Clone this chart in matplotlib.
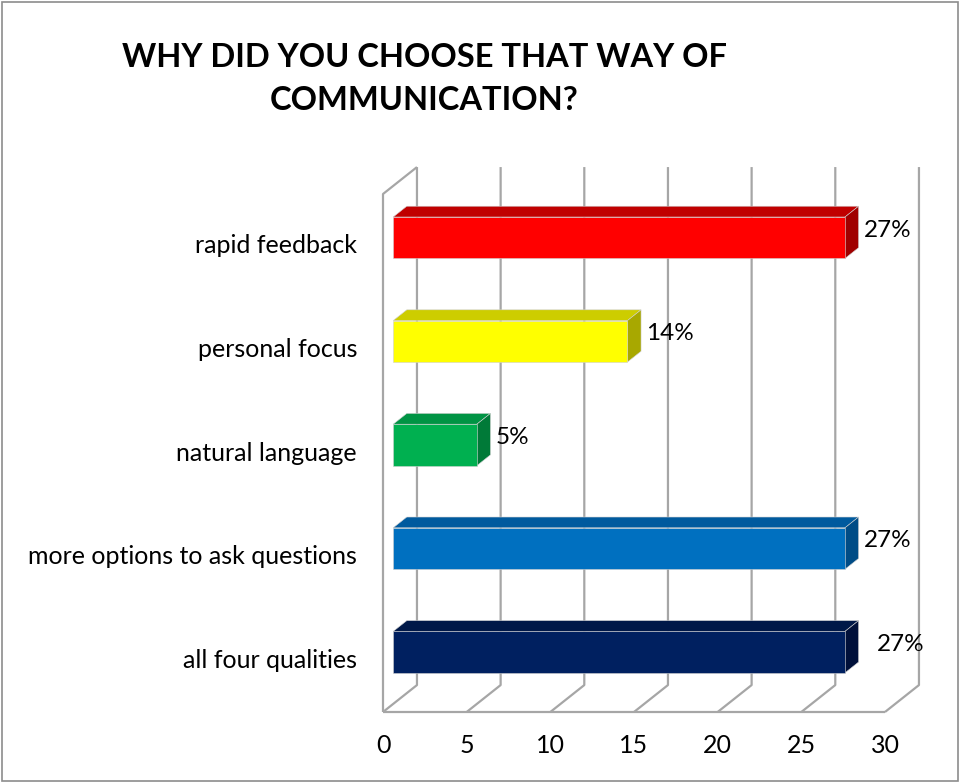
import matplotlib.pyplot as plt
from matplotlib.patches import Polygon, Rectangle

plt.rcParams['font.family'] = ['Lato', 'DejaVu Sans']

# categories listed bottom to top
categories = ['all four qualities', 'more options to ask questions',
              'natural language', 'personal focus', 'rapid feedback']
values = [27, 27, 5, 14, 27]
value_labels = ['27%', '27%', '5%', '14%', '27%']
ticks = [0, 5, 10, 15, 20, 25, 30]
title = 'WHY DID YOU CHOOSE THAT WAY OF\nCOMMUNICATION?'

front_colors = ['#002060', '#0070C0', '#00B050', '#FFFF00', '#FF0000']
top_colors = ['#001848', '#005A9E', '#009444', '#CDCD00', '#C00000']
side_colors = ['#00103A', '#004C86', '#007A38', '#A8A800', '#A00000']

# oblique projection of the depth axis (in data units per full depth)
DX, DY = 2.03, 0.26
Z_FRONT, Z_BACK = 0.3, 0.7
BAR_H = 0.40
XMAX = 30
NCAT = len(categories)
GRID = '#A6A6A6'


def proj(x, y, z):
    return x + z * DX, y + z * DY


def line3d(ax, pts, **kw):
    xy = [proj(*p) for p in pts]
    ax.plot([p[0] for p in xy], [p[1] for p in xy], color=GRID, lw=1.6,
            solid_capstyle='butt', zorder=1, **kw)


fig = plt.figure(figsize=(9.6, 7.83), dpi=100)
ax = fig.add_axes([0, 0, 1, 1])
ax.set_xlim(-383 / 16.733, (960 - 383) / 16.733)
ax.set_ylim(-71 / 103.6, (783 - 71) / 103.6)
ax.axis('off')

# walls and floor
line3d(ax, [(0, 0, 0), (0, NCAT, 0), (0, NCAT, 1)])
for t in ticks:
    line3d(ax, [(t, 0, 0), (t, 0, 1), (t, NCAT, 1)])
line3d(ax, [(0, 0, 0), (XMAX, 0, 0)])

# 3d bars
for i, v in enumerate(values):
    y0 = i + 0.5 - BAR_H / 2
    y1 = i + 0.5 + BAR_H / 2
    front = [proj(0, y0, Z_FRONT), proj(v, y0, Z_FRONT),
             proj(v, y1, Z_FRONT), proj(0, y1, Z_FRONT)]
    top = [proj(0, y1, Z_FRONT), proj(v, y1, Z_FRONT),
           proj(v, y1, Z_BACK), proj(0, y1, Z_BACK)]
    side = [proj(v, y0, Z_FRONT), proj(v, y0, Z_BACK),
            proj(v, y1, Z_BACK), proj(v, y1, Z_FRONT)]
    for poly, c in [(top, top_colors[i]), (side, side_colors[i]),
                    (front, front_colors[i])]:
        ax.add_patch(Polygon(poly, closed=True, facecolor=c,
                             edgecolor='#D0D0D0', lw=0.4, zorder=3))
    lx, ly = proj(v, i + 0.5, Z_BACK)
    pad = 1.1 if i == 0 else 0.3
    ax.text(lx + pad, ly - 0.03, value_labels[i], ha='left', va='center',
            fontsize=17.5, color='black', zorder=4)

# category labels on the front floor edge
for i, name in enumerate(categories):
    ax.text(-1.55, i + 0.5, name, ha='right', va='center', fontsize=18,
            color='black')

# value axis tick labels
for t in ticks:
    ax.text(t, -0.32, str(t), ha='center', va='center', fontsize=18,
            color='black')

fig.text(0.442, 0.899, title, ha='center', va='center', fontsize=23.5,
         fontweight='bold', linespacing=1.55)

# outer frame
fig.patches.append(Rectangle((0.002, 0.002), 0.996, 0.995,
                             transform=fig.transFigure, fill=False,
                             edgecolor='#8C8C8C', lw=1.2))

fig.savefig('out.png', dpi=100)
